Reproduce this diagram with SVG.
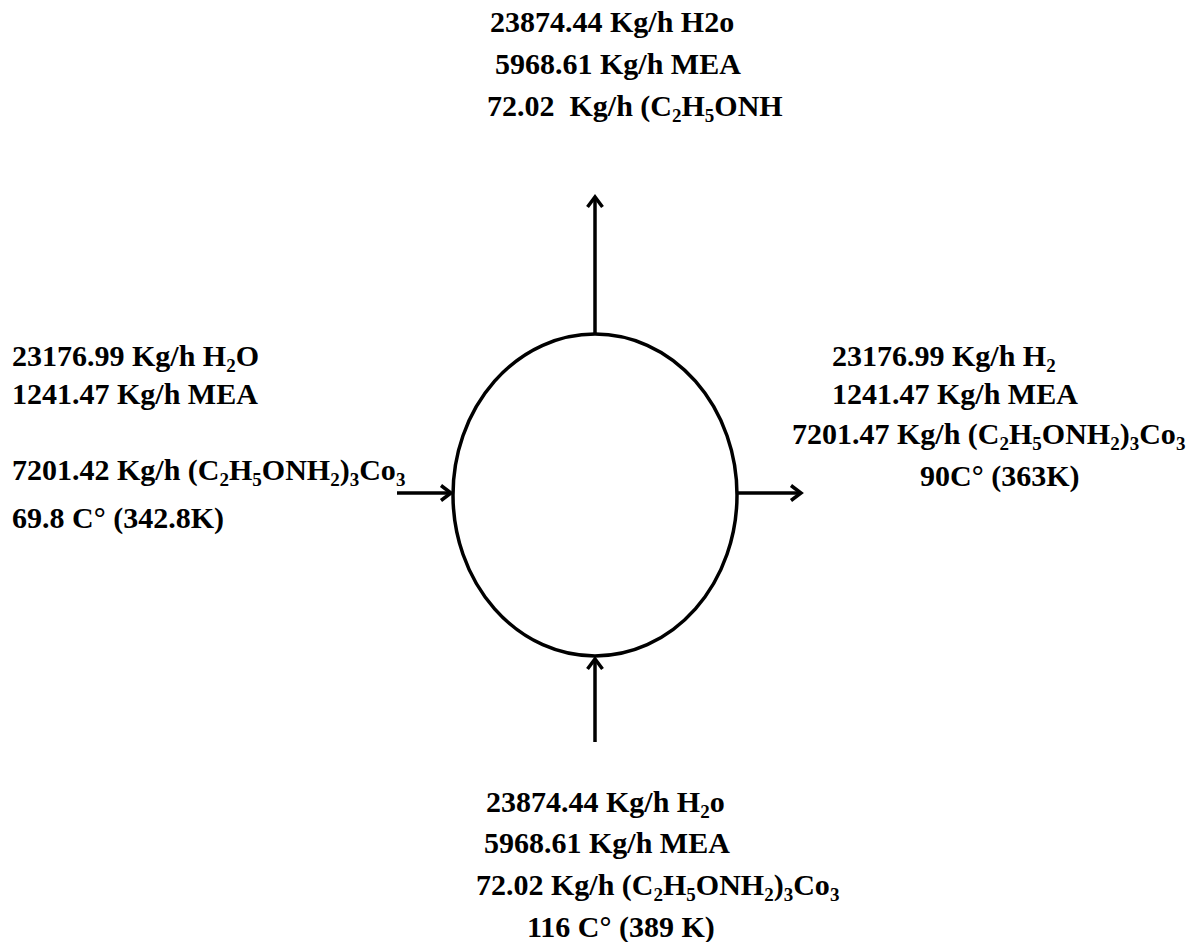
<svg xmlns="http://www.w3.org/2000/svg" width="1202" height="942" viewBox="0 0 1202 942">
<style>
text{font-family:"Liberation Serif","Times New Roman",serif;font-weight:bold;font-size:30px;fill:#000;white-space:pre}
.s{font-size:19px}
.line{stroke:#000;stroke-width:3.5;fill:none}
</style>
<defs>
<marker id="ah" markerWidth="16" markerHeight="18" refX="12" refY="9" orient="auto" markerUnits="userSpaceOnUse">
<path d="M2,1.5 L12,9 L2,16.5" fill="none" stroke="#000" stroke-width="3.5"/>
</marker>
</defs>
<rect width="1202" height="942" fill="#fff"/>
<g id="vessel">
<ellipse cx="595" cy="495" rx="142" ry="161" fill="#fff" stroke="#000" stroke-width="3.5"/>
</g>
<g id="connectors">
<line class="line" x1="595" y1="334" x2="595" y2="197" marker-end="url(#ah)"/>
<line class="line" x1="397" y1="493" x2="451" y2="493" marker-end="url(#ah)"/>
<line class="line" x1="738" y1="493" x2="801" y2="493" marker-end="url(#ah)"/>
<line class="line" x1="595" y1="742" x2="595" y2="659" marker-end="url(#ah)"/>
</g>
<g id="top-label">
<text x="490" y="32">23874.44 Kg/h H2o</text>
<text x="495" y="74">5968.61 Kg/h MEA</text>
<text x="487" y="116">72.02  Kg/h (C<tspan class="s" dy="6">2</tspan><tspan dy="-6">H</tspan><tspan class="s" dy="6">5</tspan><tspan dy="-6">ONH</tspan></text>
</g>
<g id="left-label">
<text x="12" y="366">23176.99 Kg/h H<tspan class="s" dy="6">2</tspan><tspan dy="-6">O</tspan></text>
<text x="12" y="404">1241.47 Kg/h MEA</text>
<text x="12" y="480">7201.42 Kg/h (C<tspan class="s" dy="6">2</tspan><tspan dy="-6">H</tspan><tspan class="s" dy="6">5</tspan><tspan dy="-6">ONH</tspan><tspan class="s" dy="6">2</tspan><tspan dy="-6">)</tspan><tspan class="s" dy="6">3</tspan><tspan dy="-6">Co</tspan><tspan class="s" dy="6">3</tspan></text>
<text x="12" y="528">69.8 C° (342.8K)</text>
</g>
<g id="right-label">
<text x="832" y="366">23176.99 Kg/h H<tspan class="s" dy="6">2</tspan></text>
<text x="832" y="404">1241.47 Kg/h MEA</text>
<text x="792" y="444">7201.47 Kg/h (C<tspan class="s" dy="6">2</tspan><tspan dy="-6">H</tspan><tspan class="s" dy="6">5</tspan><tspan dy="-6">ONH</tspan><tspan class="s" dy="6">2</tspan><tspan dy="-6">)</tspan><tspan class="s" dy="6">3</tspan><tspan dy="-6">Co</tspan><tspan class="s" dy="6">3</tspan></text>
<text x="920" y="486">90C° (363K)</text>
</g>
<g id="bottom-label">
<text x="486" y="812">23874.44 Kg/h H<tspan class="s" dy="6">2</tspan><tspan dy="-6">o</tspan></text>
<text x="484" y="853">5968.61 Kg/h MEA</text>
<text x="476" y="895">72.02 Kg/h (C<tspan class="s" dy="6">2</tspan><tspan dy="-6">H</tspan><tspan class="s" dy="6">5</tspan><tspan dy="-6">ONH</tspan><tspan class="s" dy="6">2</tspan><tspan dy="-6">)</tspan><tspan class="s" dy="6">3</tspan><tspan dy="-6">Co</tspan><tspan class="s" dy="6">3</tspan></text>
<text x="527" y="937">116 C° (389 K)</text>
</g>
</svg>
